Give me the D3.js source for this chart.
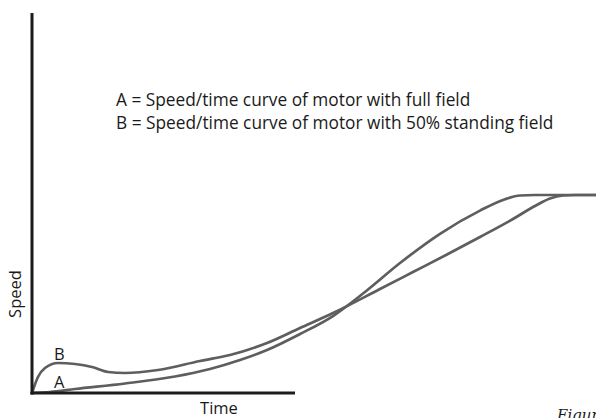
<!DOCTYPE html>
<html>
<head>
<meta charset="utf-8">
<script src="https://cdn.jsdelivr.net/npm/d3@7"></script>
<style>
  body { margin: 0; background: #fff; }
  svg { display: block; }
</style>
</head>
<body>
<svg width="596" height="418"></svg>
<script>
// speed/time readings, time and speed in % of the plotted span
const timeA  = [0, 3.19, 7.62, 16.49, 25.35, 31.56, 36.88, 41.67, 47.52, 53.37, 59.04, 65.25, 72.34, 79.43, 83.87, 86.52, 89.18, 100];
const speedA = [0, 0.26, 1.05, 2.5, 4.34, 6.32, 8.68, 11.32, 15.53, 20.26, 26.58, 34.2, 41.9, 48.0, 51.0, 51.97, 52.11, 52.11];

const timeB  = [0, 1.06, 2.3, 4.61, 7.62, 10.64, 13.48, 16.49, 22.34, 29.79, 35.11, 41.67, 47.52, 53.37, 61.7, 67.55, 73.58, 79.43, 85.28, 89.18, 91.84, 94.15, 96.28, 100];
const speedB = [0, 4.21, 6.58, 7.89, 7.63, 6.84, 5.53, 5.26, 6.05, 8.42, 10.0, 13.16, 17.11, 21.05, 27.37, 31.84, 36.45, 41.05, 45.79, 49.21, 51.18, 51.97, 52.11, 52.11];

const legendLines = [
  'A = Speed/time curve of motor with full field',
  'B = Speed/time curve of motor with 50% standing field'
];

const svg = d3.select('svg');
const font = '"Open Sans", sans-serif';

const x = d3.scaleLinear().domain([0, 100]).range([32, 596]);
const y = d3.scaleLinear().domain([0, 100]).range([393, 13]);

const line = d3.line()
  .x(d => x(d[0]))
  .y(d => y(d[1]))
  .curve(d3.curveMonotoneX);

const curves = [
  d3.zip(timeA, speedA),
  d3.zip(timeB, speedB)
];

svg.selectAll('path.curve')
  .data(curves)
  .enter().append('path')
    .attr('class', 'curve')
    .attr('d', line)
    .attr('fill', 'none')
    .attr('stroke', '#5e5e5e')
    .attr('stroke-width', 2.7)
    .attr('stroke-linecap', 'round');

// axes: plain lines, no ticks
svg.append('line')
  .attr('x1', x(0)).attr('x2', x(0))
  .attr('y1', 13).attr('y2', y(0) + 1.5)
  .attr('stroke', '#1c1c1c').attr('stroke-width', 3);
svg.append('line')
  .attr('x1', x(0) - 1.5).attr('x2', 295)
  .attr('y1', y(0)).attr('y2', y(0))
  .attr('stroke', '#1c1c1c').attr('stroke-width', 3);

svg.selectAll('text.legend')
  .data(legendLines)
  .enter().append('text')
    .attr('class', 'legend')
    .attr('x', 116)
    .attr('y', (d, i) => 106 + i * 22.5)
    .attr('font-family', font)
    .attr('font-size', 17.3)
    .attr('fill', '#1a1a1a')
    .text(d => d);

svg.append('text')
  .attr('x', 54).attr('y', 360)
  .attr('font-family', font).attr('font-size', 16.5).attr('fill', '#1a1a1a')
  .text('B');
svg.append('text')
  .attr('x', 54).attr('y', 388)
  .attr('font-family', font).attr('font-size', 16.5).attr('fill', '#1a1a1a')
  .text('A');

svg.append('text')
  .attr('transform', 'translate(21,294) rotate(-90)')
  .attr('text-anchor', 'middle')
  .attr('font-family', font).attr('font-size', 16.5).attr('fill', '#1a1a1a')
  .text('Speed');

svg.append('text')
  .attr('x', 219).attr('y', 414)
  .attr('text-anchor', 'middle')
  .attr('font-family', font).attr('font-size', 16.5).attr('fill', '#1a1a1a')
  .text('Time');

svg.append('text')
  .attr('x', 557).attr('y', 420)
  .attr('font-family', '"DejaVu Serif", serif')
  .attr('font-style', 'italic')
  .attr('font-size', 15)
  .attr('fill', '#1a1a1a')
  .text('Figure');
</script>
</body>
</html>
